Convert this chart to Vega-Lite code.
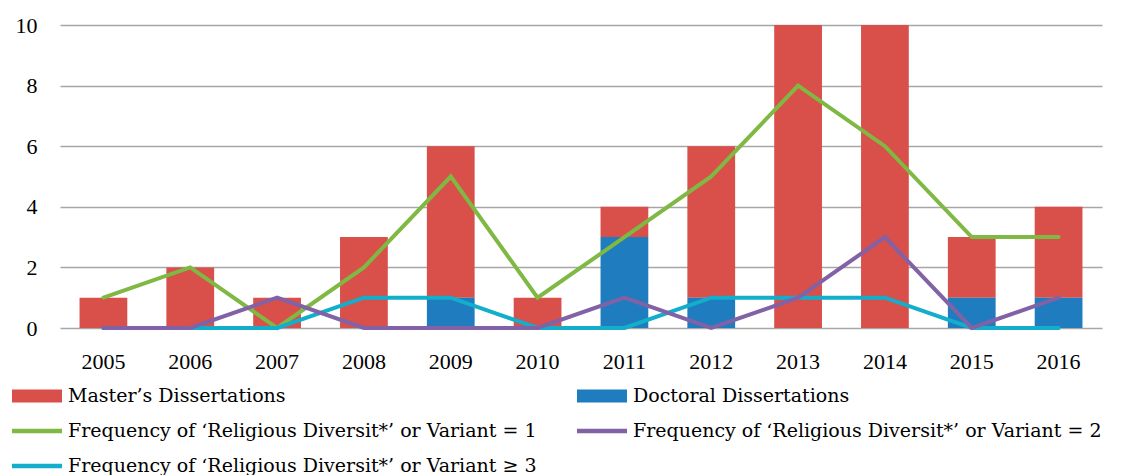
{
  "$schema": "https://vega.github.io/schema/vega-lite/v6.json",
  "autosize": {"type": "none"},
  "padding": {"left": 60, "top": 25, "right": 24, "bottom": 147},
  "width": 1042,
  "height": 303,
  "background": "#ffffff",
  "config": {
    "view": {"stroke": null},
    "font": "Liberation Serif",
    "axis": {"labelFont": "Liberation Serif", "labelFontSize": 22, "labelColor": "#000000"}
  },
  "datasets": {
    "bars": [
      {"year": "2005", "type": "Master’s Dissertations", "count": 1},
      {"year": "2006", "type": "Master’s Dissertations", "count": 2},
      {"year": "2007", "type": "Master’s Dissertations", "count": 1},
      {"year": "2008", "type": "Master’s Dissertations", "count": 3},
      {"year": "2009", "type": "Master’s Dissertations", "count": 5},
      {"year": "2010", "type": "Master’s Dissertations", "count": 1},
      {"year": "2011", "type": "Master’s Dissertations", "count": 1},
      {"year": "2012", "type": "Master’s Dissertations", "count": 5},
      {"year": "2013", "type": "Master’s Dissertations", "count": 10},
      {"year": "2014", "type": "Master’s Dissertations", "count": 10},
      {"year": "2015", "type": "Master’s Dissertations", "count": 2},
      {"year": "2016", "type": "Master’s Dissertations", "count": 3},
      {"year": "2005", "type": "Doctoral Dissertations", "count": 0},
      {"year": "2006", "type": "Doctoral Dissertations", "count": 0},
      {"year": "2007", "type": "Doctoral Dissertations", "count": 0},
      {"year": "2008", "type": "Doctoral Dissertations", "count": 0},
      {"year": "2009", "type": "Doctoral Dissertations", "count": 1},
      {"year": "2010", "type": "Doctoral Dissertations", "count": 0},
      {"year": "2011", "type": "Doctoral Dissertations", "count": 3},
      {"year": "2012", "type": "Doctoral Dissertations", "count": 1},
      {"year": "2013", "type": "Doctoral Dissertations", "count": 0},
      {"year": "2014", "type": "Doctoral Dissertations", "count": 0},
      {"year": "2015", "type": "Doctoral Dissertations", "count": 1},
      {"year": "2016", "type": "Doctoral Dissertations", "count": 1}
    ],
    "lines": [
      {"year": "2005", "type": "Frequency of ‘Religious Diversit*’ or Variant = 1", "count": 1},
      {"year": "2006", "type": "Frequency of ‘Religious Diversit*’ or Variant = 1", "count": 2},
      {"year": "2007", "type": "Frequency of ‘Religious Diversit*’ or Variant = 1", "count": 0},
      {"year": "2008", "type": "Frequency of ‘Religious Diversit*’ or Variant = 1", "count": 2},
      {"year": "2009", "type": "Frequency of ‘Religious Diversit*’ or Variant = 1", "count": 5},
      {"year": "2010", "type": "Frequency of ‘Religious Diversit*’ or Variant = 1", "count": 1},
      {"year": "2011", "type": "Frequency of ‘Religious Diversit*’ or Variant = 1", "count": 3},
      {"year": "2012", "type": "Frequency of ‘Religious Diversit*’ or Variant = 1", "count": 5},
      {"year": "2013", "type": "Frequency of ‘Religious Diversit*’ or Variant = 1", "count": 8},
      {"year": "2014", "type": "Frequency of ‘Religious Diversit*’ or Variant = 1", "count": 6},
      {"year": "2015", "type": "Frequency of ‘Religious Diversit*’ or Variant = 1", "count": 3},
      {"year": "2016", "type": "Frequency of ‘Religious Diversit*’ or Variant = 1", "count": 3},
      {"year": "2005", "type": "Frequency of ‘Religious Diversit*’ or Variant ≥ 3", "count": 0},
      {"year": "2006", "type": "Frequency of ‘Religious Diversit*’ or Variant ≥ 3", "count": 0},
      {"year": "2007", "type": "Frequency of ‘Religious Diversit*’ or Variant ≥ 3", "count": 0},
      {"year": "2008", "type": "Frequency of ‘Religious Diversit*’ or Variant ≥ 3", "count": 1},
      {"year": "2009", "type": "Frequency of ‘Religious Diversit*’ or Variant ≥ 3", "count": 1},
      {"year": "2010", "type": "Frequency of ‘Religious Diversit*’ or Variant ≥ 3", "count": 0},
      {"year": "2011", "type": "Frequency of ‘Religious Diversit*’ or Variant ≥ 3", "count": 0},
      {"year": "2012", "type": "Frequency of ‘Religious Diversit*’ or Variant ≥ 3", "count": 1},
      {"year": "2013", "type": "Frequency of ‘Religious Diversit*’ or Variant ≥ 3", "count": 1},
      {"year": "2014", "type": "Frequency of ‘Religious Diversit*’ or Variant ≥ 3", "count": 1},
      {"year": "2015", "type": "Frequency of ‘Religious Diversit*’ or Variant ≥ 3", "count": 0},
      {"year": "2016", "type": "Frequency of ‘Religious Diversit*’ or Variant ≥ 3", "count": 0},
      {"year": "2005", "type": "Frequency of ‘Religious Diversit*’ or Variant = 2", "count": 0},
      {"year": "2006", "type": "Frequency of ‘Religious Diversit*’ or Variant = 2", "count": 0},
      {"year": "2007", "type": "Frequency of ‘Religious Diversit*’ or Variant = 2", "count": 1},
      {"year": "2008", "type": "Frequency of ‘Religious Diversit*’ or Variant = 2", "count": 0},
      {"year": "2009", "type": "Frequency of ‘Religious Diversit*’ or Variant = 2", "count": 0},
      {"year": "2010", "type": "Frequency of ‘Religious Diversit*’ or Variant = 2", "count": 0},
      {"year": "2011", "type": "Frequency of ‘Religious Diversit*’ or Variant = 2", "count": 1},
      {"year": "2012", "type": "Frequency of ‘Religious Diversit*’ or Variant = 2", "count": 0},
      {"year": "2013", "type": "Frequency of ‘Religious Diversit*’ or Variant = 2", "count": 1},
      {"year": "2014", "type": "Frequency of ‘Religious Diversit*’ or Variant = 2", "count": 3},
      {"year": "2015", "type": "Frequency of ‘Religious Diversit*’ or Variant = 2", "count": 0},
      {"year": "2016", "type": "Frequency of ‘Religious Diversit*’ or Variant = 2", "count": 1}
    ]
  },
  "encoding": {
    "x": {
      "field": "year", "type": "ordinal", "title": null,
      "scale": {"paddingInner": 0.45, "paddingOuter": 0.225},
      "axis": {"labelAngle": 0, "domain": false, "ticks": false, "labelPadding": 23,
               "labelFont": "Liberation Serif", "labelFontSize": 22, "labelColor": "#000000"}
    },
    "y": {
      "field": "count", "type": "quantitative", "title": null,
      "scale": {"domain": [0, 10], "nice": false},
      "axis": {"values": [0, 2, 4, 6, 8, 10], "domain": false, "ticks": false, "labelPadding": 23,
               "labelFont": "Liberation Serif", "labelFontSize": 22, "labelColor": "#000000",
               "gridColor": "#a6a6a6", "gridWidth": 1.5, "gridOpacity": 1}
    },
    "color": {
      "field": "type", "type": "nominal",
      "scale": {
        "domain": ["Master’s Dissertations", "Frequency of ‘Religious Diversit*’ or Variant = 1", "Frequency of ‘Religious Diversit*’ or Variant ≥ 3", "Doctoral Dissertations", "Frequency of ‘Religious Diversit*’ or Variant = 2"],
        "range": ["#d94f4a", "#7fb843", "#12aecb", "#1e7cbf", "#8162a6"]
      },
      "legend": {
        "orient": "none", "legendX": -48, "legendY": 346, "columns": 2,
        "columnPadding": 40, "rowPadding": -0.5, "padding": 0, "title": null,
        "labelFont": "DejaVu Serif", "labelFontSize": 19, "labelColor": "#000000",
        "labelLimit": 0, "labelOffset": 6, "symbolSize": 2500,
        "encode": {
          "symbols": {
            "update": {
              "shape": {"signal": "indexof(['Master’s Dissertations', 'Doctoral Dissertations'], datum.value) >= 0 ? 'M-1,-0.26H1V0.26H-1Z' : 'M-1,-0.09H1V0.09H-1Z'"},
              "fill": {"signal": "scale('color', datum.value)"},
              "stroke": {"value": "transparent"},
              "strokeWidth": {"value": 0},
              "opacity": {"value": 1},
              "fillOpacity": {"value": 1}
            }
          }
        }
      }
    }
  },
  "layer": [
    {
      "data": {"name": "bars"},
      "mark": {"type": "bar", "opacity": 1},
      "encoding": {
        "y": {"field": "count", "type": "quantitative", "stack": "zero"},
        "order": {"field": "type", "sort": "ascending"}
      }
    },
    {
      "data": {"name": "lines"},
      "mark": {"type": "line", "strokeWidth": 4, "strokeCap": "round", "strokeJoin": "miter"},
      "encoding": {}
    }
  ]
}
